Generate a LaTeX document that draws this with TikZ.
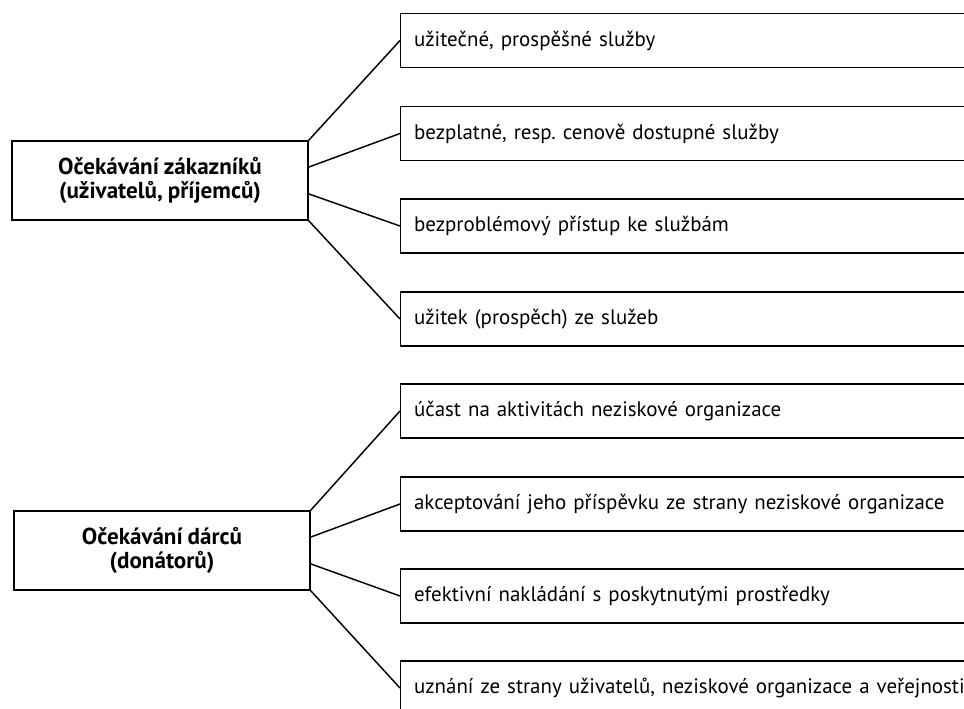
\documentclass[tikz,border=0pt]{standalone}
\usepackage{fontspec}
\setmainfont[WordSpace=0.85]{PT Sans}
\frenchspacing
\usetikzlibrary{calc}
\begin{document}
\begin{tikzpicture}
  [x=0.75pt, y=-0.75pt, line width=1.1pt,
   group/.style = {draw, font=\fontsize{17.3}{17.5}\selectfont\bfseries, align=center,
                   minimum width=222pt, minimum height=59.25pt},
   item/.style  = {draw, font=\fontsize{15.7}{18}\selectfont, anchor=west, align=left,
                   text width=430pt, inner xsep=10pt, minimum height=40.5pt}]
  \clip (0,0) rectangle (964,709);
  \fill[white] (0,0) rectangle (964,709);
  % zakaznici
  \node[group] (zak) at (160,180.5) {Očekávání zákazníků\\(uživatelů, příjemců)};
  \node[item] (z1) at (400,40.5)  {užitečné, prospěšné služby};
  \node[item] (z2) at (400,133.5) {bezplatné, resp. cenově dostupné služby};
  \node[item] (z3) at (400,226)   {bezproblémový přístup ke službám};
  \node[item] (z4) at (400,319)   {užitek (prospěch) ze služeb};
  \draw (zak.north east) -- (z1.west);
  \draw ($(zak.north east)!1/3!(zak.south east)$) -- (z2.west);
  \draw ($(zak.north east)!2/3!(zak.south east)$) -- (z3.west);
  \draw (zak.south east) -- (z4.west);
  % darci
  \node[group] (dar) at (162,550.5) {Očekávání dárců\\(donátorů)};
  \node[item] (d1) at (400,411) {účast na aktivitách neziskové organizace};
  \node[item] (d2) at (400,504) {akceptování jeho příspěvku ze strany neziskové organizace};
  \node[item] (d3) at (400,596) {efektivní nakládání s poskytnutými prostředky};
  \node[item] (d4) at (400,688) {uznání ze strany uživatelů, neziskové organizace a veřejnosti};
  \draw (dar.north east) -- (d1.west);
  \draw ($(dar.north east)!1/3!(dar.south east)$) -- (d2.west);
  \draw ($(dar.north east)!2/3!(dar.south east)$) -- (d3.west);
  \draw (dar.south east) -- (d4.west);
\end{tikzpicture}
\end{document}
